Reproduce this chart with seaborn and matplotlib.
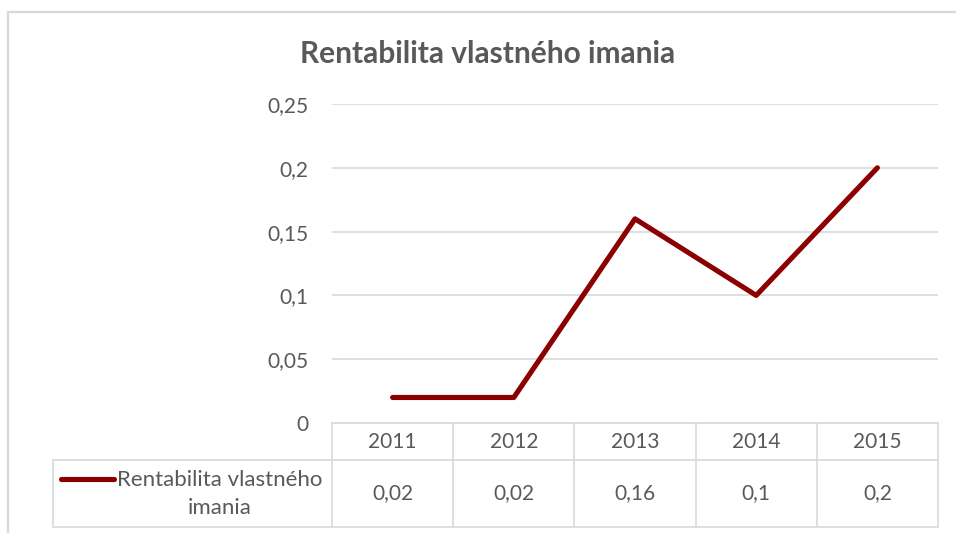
import pandas as pd
import matplotlib.pyplot as plt
import seaborn as sns
from matplotlib.lines import Line2D
from matplotlib.transforms import blended_transform_factory

# data
years = ["2011", "2012", "2013", "2014", "2015"]
roe = [0.02, 0.02, 0.16, 0.10, 0.20]
series_name = "Rentabilita vlastného imania"
y_ticks = [0, 0.05, 0.10, 0.15, 0.20, 0.25]

W, H = 956, 533
grey_line = "#d9d9d9"
text_col = "#595959"
red = "#8b0000"

sns.set_style("white")
plt.rcParams["font.family"] = ["Lato", "DejaVu Sans"]


def fx(x):
    return x / W


def fy(y):
    return 1 - y / H


def fmt(v):
    s = f"{v:.2f}".rstrip("0").rstrip(".")
    return s.replace(".", ",")


df = pd.DataFrame({"Rok": years, "ROE": roe})

fig = plt.figure(figsize=(W / 100, H / 100), dpi=100)
left, right, top, bottom = 332, 938, 104, 423
ax = fig.add_axes([fx(left), fy(bottom), (right - left) / W, (bottom - top) / H])

sns.lineplot(data=df, x="Rok", y="ROE", color=red, lw=3.7, ax=ax, sort=False)

ax.set_xlim(-0.5, len(years) - 0.5)
ax.set_ylim(0, 0.25)
ax.set_yticks(y_ticks)
ax.set_yticklabels([fmt(v) for v in y_ticks], color=text_col, fontsize=15)
ax.tick_params(axis="y", length=0, pad=17)
ax.set_xticks([])
ax.set_xlabel("")
ax.set_ylabel("")
ax.grid(axis="y", color=grey_line, lw=1.2)
for s in ["top", "right", "left"]:
    ax.spines[s].set_visible(False)
ax.spines["bottom"].set_color(grey_line)
ax.spines["bottom"].set_linewidth(1.2)

fig.text(fx(488), fy(54), series_name, ha="center", va="center",
         fontsize=21.5, fontweight="bold", color=text_col)

# data table under the axis
bt = blended_transform_factory(ax.transData, fig.transFigure)
row1, row2, row3 = 423, 460, 527
for i in range(len(years) + 1):
    fig.add_artist(Line2D([i - 0.5, i - 0.5], [fy(row1), fy(row3)], transform=bt,
                          color=grey_line, lw=1.2))
for y in (row2, row3):
    fig.add_artist(Line2D([fx(53), fx(right)], [fy(y), fy(y)], transform=fig.transFigure,
                          color=grey_line, lw=1.2))
fig.add_artist(Line2D([fx(53), fx(53)], [fy(row2), fy(row3)], transform=fig.transFigure,
                      color=grey_line, lw=1.2))

for i, (yr, v) in enumerate(zip(years, roe)):
    fig.text(i, fy((row1 + row2) / 2), yr, transform=bt, ha="center", va="center",
             fontsize=15, color=text_col)
    fig.text(i, fy((row2 + row3) / 2), fmt(v), transform=bt, ha="center", va="center",
             fontsize=15, color=text_col)

fig.add_artist(Line2D([fx(61), fx(114)], [fy(479), fy(479)], transform=fig.transFigure,
                      color=red, lw=3.7, solid_capstyle="round"))
fig.text(fx(220), fy(494), "Rentabilita vlastného\nimania", ha="center", va="center",
         fontsize=16, color=text_col, linespacing=1.45)

# chart border
fig.add_artist(Line2D([fx(7.5), fx(W)], [fy(11.5), fy(11.5)], transform=fig.transFigure,
                      color=grey_line, lw=1.6))
fig.add_artist(Line2D([fx(7.5), fx(7.5)], [fy(11.5), fy(H)], transform=fig.transFigure,
                      color=grey_line, lw=1.6))

fig.savefig("out.png", dpi=100)
